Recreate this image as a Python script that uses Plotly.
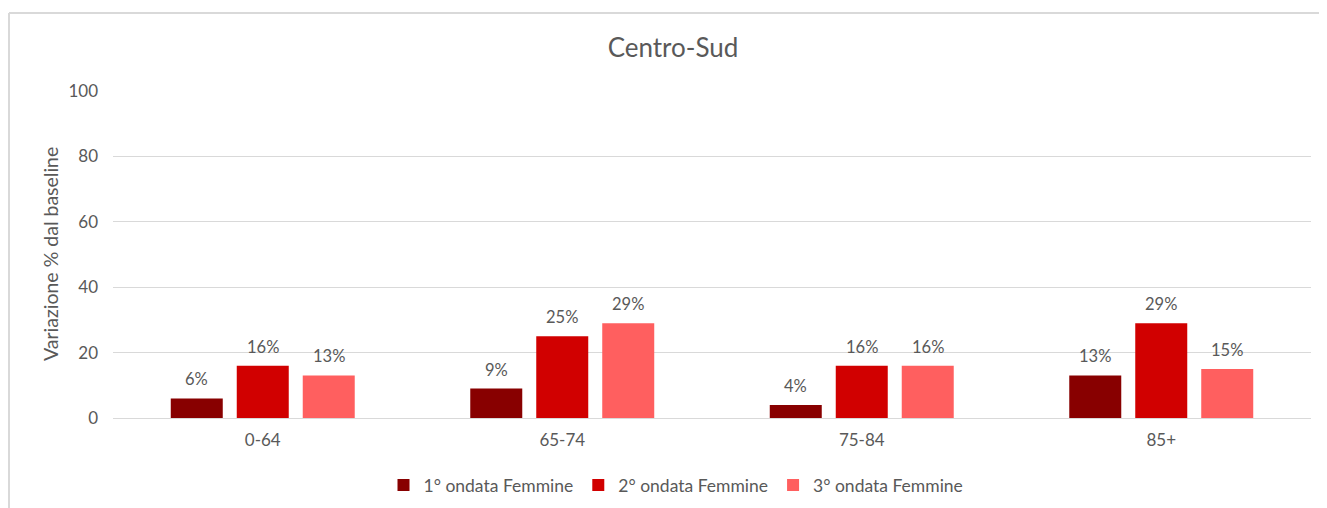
import plotly.graph_objects as go

categories = ["0-64", "65-74", "75-84", "85+"]
series_names = ["1° ondata Femmine", "2° ondata Femmine", "3° ondata Femmine"]
wave1 = [6, 9, 4, 13]
wave2 = [16, 25, 16, 29]
wave3 = [13, 29, 16, 15]
colors = ["#880000", "#D10000", "#FF5F5F"]
y_ticks = [0, 20, 40, 60, 80, 100]

# page has an 8px body margin, so the figure is drawn 8px smaller and shifted
W, H = 1319, 500
ml, mr, mt, mb = 105, 16, 83, 90
pw, ph = W - ml - mr, H - mt - mb

font_family = "Lato, 'Open Sans', sans-serif"
gray = "#595959"
bargap = 0.339
bargroupgap = 0.212

fig = go.Figure()
all_series = [wave1, wave2, wave3]
for name, vals, col in zip(series_names, all_series, colors):
    fig.add_trace(go.Bar(
        x=categories, y=vals, name=name,
        marker=dict(color=col, line=dict(width=0)),
    ))

# data labels, placed at each bar's value through the axis scales
cat_px = pw / len(categories)
slot_px = cat_px * (1 - bargap) / len(all_series)
annotations = []
for si, vals in enumerate(all_series):
    for cat, v in zip(categories, vals):
        annotations.append(dict(
            x=cat, y=v, xref="x", yref="y", text=f"{v}%", showarrow=False,
            xshift=(si - 1) * slot_px, yshift=19, xanchor="center", yanchor="middle",
            font=dict(size=16.5, color=gray, family=font_family)))

annotations.append(dict(text="Variazione % dal baseline", textangle=-90,
                        xref="paper", yref="paper",
                        x=(42 - ml) / pw, y=(ph - (246 - mt)) / ph,
                        xanchor="center", yanchor="middle", showarrow=False,
                        font=dict(size=19.5, color=gray, family=font_family)))

fig.update_layout(
    width=W, height=H,
    margin=dict(l=ml, r=mr, t=mt, b=mb, autoexpand=False),
    paper_bgcolor="white", plot_bgcolor="white",
    barmode="group", bargap=bargap, bargroupgap=bargroupgap,
    font=dict(family=font_family, color=gray),
    title=dict(text="Centro-Sud", x=665 / W, xref="container", xanchor="center",
               y=1 - 40 / H, yref="container", yanchor="middle",
               font=dict(size=26, color=gray, family=font_family)),
    showlegend=True,
    legend=dict(orientation="h", x=(668 - ml) / pw, xanchor="center",
                y=(ph - (477 - mt)) / ph, yanchor="middle",
                font=dict(size=17.5, color=gray, family=font_family),
                itemwidth=30, traceorder="normal"),
    xaxis=dict(showgrid=False, showline=False, ticks="", ticklabelstandoff=10,
               tickfont=dict(size=17, color=gray, family=font_family)),
    yaxis=dict(range=[0, 100], tickvals=y_ticks, showgrid=True, gridcolor="#D9D9D9",
               gridwidth=1, zeroline=True, zerolinecolor="#D9D9D9", zerolinewidth=1,
               showline=False, ticks="", ticklabelstandoff=14,
               tickfont=dict(size=17, color=gray, family=font_family)),
    annotations=annotations,
    shapes=[
        dict(type="line", xref="paper", yref="paper",
             x0=(1 - ml) / pw, x1=(W + 5 - ml) / pw,
             y0=1 + (mt - 5) / ph, y1=1 + (mt - 5) / ph,
             line=dict(color="#D9D9D9", width=2)),
        dict(type="line", xref="paper", yref="paper",
             x0=(1 - ml) / pw, x1=(1 - ml) / pw,
             y0=1 + (mt - 5) / ph, y1=-(mb + 5) / ph,
             line=dict(color="#D9D9D9", width=2)),
    ],
)

fig.write_html("out.html")
